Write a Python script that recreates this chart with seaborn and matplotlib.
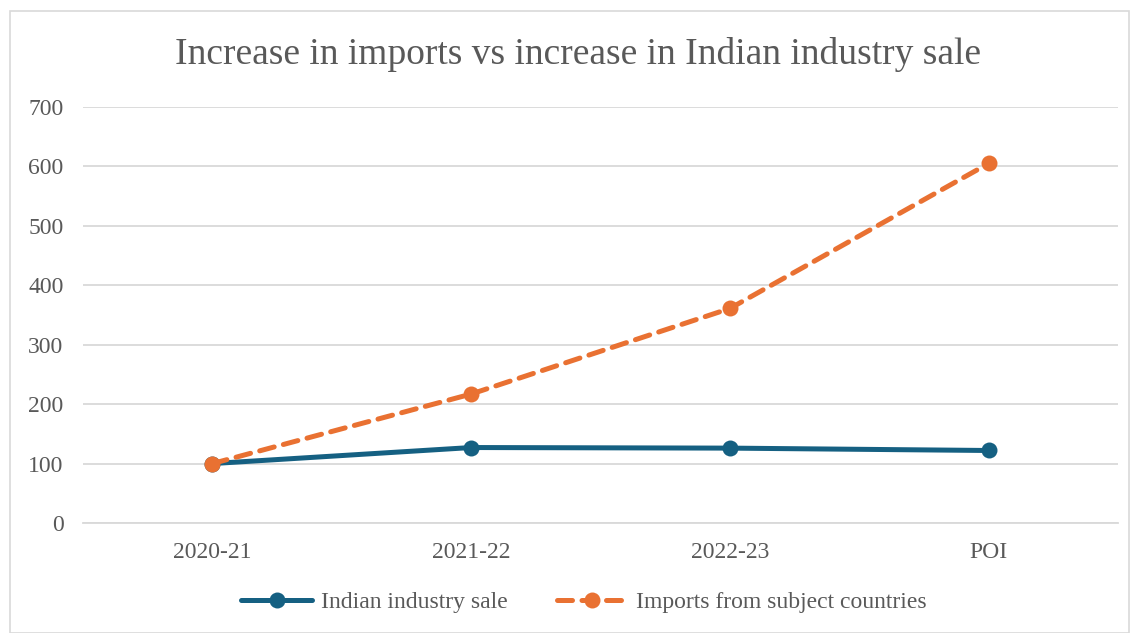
import matplotlib
matplotlib.use("Agg")
import matplotlib.pyplot as plt
import seaborn as sns
import pandas as pd
from matplotlib.patches import Rectangle

categories = ["2020-21", "2021-22", "2022-23", "POI"]
indian_sale = [100, 127, 126, 122]
imports_subject = [100, 217, 361, 605]
series_names = ["Indian industry sale", "Imports from subject countries"]
y_ticks = [0, 100, 200, 300, 400, 500, 600, 700]

sns.set_theme(style="white")
plt.rcParams["font.family"] = ["Liberation Serif", "DejaVu Serif"]

BLUE = "#156082"
ORANGE = "#E97132"
GRID = "#D9D9D9"
TEXT = "#595959"

fig = plt.figure(figsize=(11.38, 6.33), dpi=100)
ax = fig.add_axes([83 / 1138, 1 - 523 / 633, (1118 - 83) / 1138, (523 - 107) / 633])

df_a = pd.DataFrame({"cat": categories, "val": indian_sale})
df_b = pd.DataFrame({"cat": categories, "val": imports_subject})

sns.lineplot(data=df_a, x="cat", y="val", ax=ax, color=BLUE, linewidth=3.6,
             marker="o", markersize=11.5, markeredgewidth=0, label=series_names[0],
             solid_capstyle="round", zorder=3)
sns.lineplot(data=df_b, x="cat", y="val", ax=ax, color=ORANGE, linewidth=3.6,
             marker="o", markersize=11.5, markeredgewidth=0, label=series_names[1],
             dashes=False, zorder=4)
ax.lines[1].set_linestyle((0, (3.0, 1.9)))
ax.lines[1].set_dash_capstyle("round")

ax.set_xlim(-0.5, 3.5)
ax.set_ylim(0, 700)
ax.set_yticks(y_ticks)
ax.yaxis.grid(True, color=GRID, linewidth=1.3)
ax.set_axisbelow(True)
for s in ["top", "right", "left"]:
    ax.spines[s].set_visible(False)
ax.spines["bottom"].set_color(GRID)
ax.spines["bottom"].set_linewidth(1.3)
ax.tick_params(axis="both", length=0, labelsize=17, labelcolor=TEXT)
ax.tick_params(axis="y", pad=14)
ax.tick_params(axis="x", pad=14)
ax.set_xlabel("")
ax.set_ylabel("")

fig.text(578 / 1138, 1 - 54 / 633, "Increase in imports vs increase in Indian industry sale",
         ha="center", va="center", fontsize=27, color=TEXT)

handles, labels = ax.get_legend_handles_labels()
leg = ax.legend(handles, labels, loc="center", bbox_to_anchor=(584 / 1138, 1 - 602 / 633),
                bbox_transform=fig.transFigure, ncol=2, frameon=False, fontsize=17,
                handlelength=3.0, columnspacing=2.1, handletextpad=0.35, labelcolor=TEXT)

fig.patches.append(Rectangle((10 / 1138, 0), (1129 - 10) / 1138, 1 - 11 / 633,
                             transform=fig.transFigure, fill=False,
                             edgecolor=GRID, linewidth=1.2))

fig.savefig("out.png", dpi=100)
